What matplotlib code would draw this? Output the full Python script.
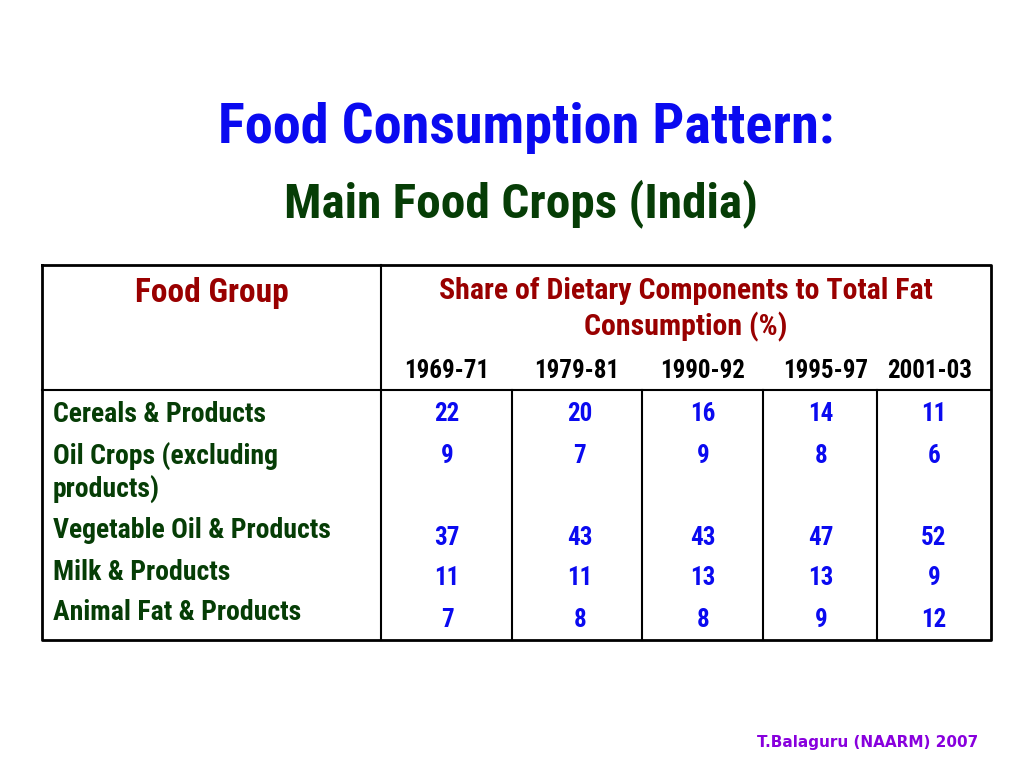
import matplotlib
matplotlib.use("Agg")
import matplotlib.pyplot as plt

# data
years = ["1969-71", "1979-81", "1990-92", "1995-97", "2001-03"]
groups = ["Cereals & Products", "Oil Crops (excluding\nproducts)", "Vegetable Oil & Products",
          "Milk & Products", "Animal Fat & Products"]
cereals = [22, 20, 16, 14, 11]
oil_crops = [9, 7, 9, 8, 6]
veg_oil = [37, 43, 43, 47, 52]
milk = [11, 11, 13, 13, 9]
animal_fat = [7, 8, 8, 9, 12]
values = [cereals, oil_crops, veg_oil, milk, animal_fat]

narrow = ["Roboto Condensed", "DejaVu Sans"]
blue = "#0a0af0"
green = "#063d06"
red = "#990000"

fig = plt.figure(figsize=(10.24, 7.68), dpi=100)
ax = fig.add_axes([0, 0, 1, 1])
ax.set_xlim(0, 1024)
ax.set_ylim(768, 0)
ax.axis("off")

# titles
ax.text(526, 128, "Food Consumption Pattern:", color=blue, fontsize=40.5, fontweight="bold",
        family=narrow, ha="center", va="center")
ax.text(521, 204, "Main Food Crops (India)", color=green, fontsize=35.5, fontweight="bold",
        family=narrow, ha="center", va="center")

# table frame
left, right, top, bottom, head = 42, 991, 265, 640, 390
col_lines = [381, 512, 642, 763, 877]
ax.plot([left, right, right, left, left], [top, top, bottom, bottom, top], color="black", lw=2)
ax.plot([left, right], [head, head], color="black", lw=1.5)
ax.plot([col_lines[0], col_lines[0]], [top, bottom], color="black", lw=1.5)
for x in col_lines[1:]:
    ax.plot([x, x], [head, bottom], color="black", lw=1.5)

# header
ax.text(212, 293, "Food Group", color=red, fontsize=24, fontweight="bold", family=narrow,
        ha="center", va="center")
ax.text(686, 291, "Share of Dietary Components to Total Fat", color=red, fontsize=21.5,
        fontweight="bold", family=narrow, ha="center", va="center")
ax.text(686, 327, "Consumption (%)", color=red, fontsize=21.5, fontweight="bold", family=narrow,
        ha="center", va="center")
year_x = [447, 577, 703, 826, 930]
for x, y in zip(year_x, years):
    ax.text(x, 371, y, color="black", fontsize=18, fontweight="bold", family=narrow,
            ha="center", va="center")

# rows
label_y = [414, 456, 530, 572, 612]
val_y = [414, 456, 538, 578, 620]
val_x = [447, 580, 703, 821, 934]
for g, ly, row, vy in zip(groups, label_y, values, val_y):
    for k, line in enumerate(g.split("\n")):
        ax.text(53, ly + 33 * k, line, color=green, fontsize=20, fontweight="bold",
                family=narrow, ha="left", va="center")
    for x, v in zip(val_x, row):
        ax.text(x, vy, str(v), color=blue, fontsize=18, fontweight="bold", family=narrow,
                ha="center", va="center")

# footer
ax.text(978, 742, "T.Balaguru (NAARM) 2007", color="#8800dd", fontsize=11, fontweight="bold",
        family="DejaVu Sans", ha="right", va="center")

fig.savefig("out.png", dpi=100)
